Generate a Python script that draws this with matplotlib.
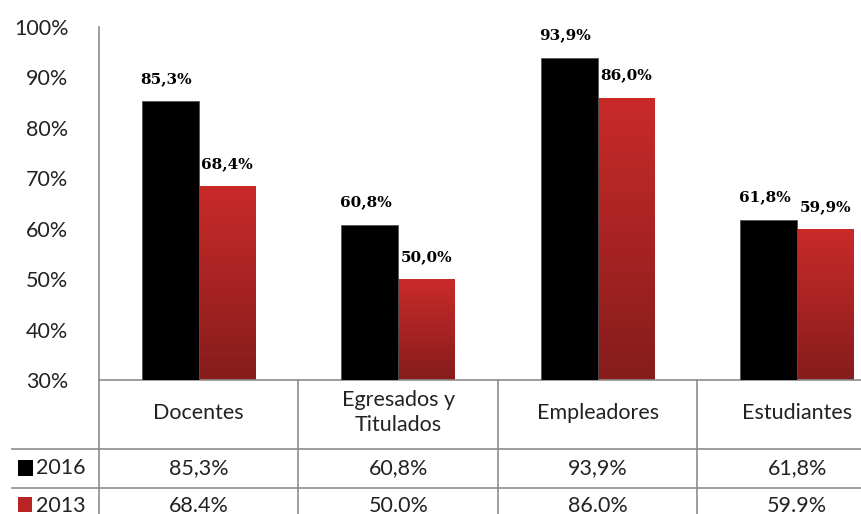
import numpy as np
import matplotlib
matplotlib.use("Agg")
import matplotlib.pyplot as plt
from matplotlib.colors import LinearSegmentedColormap

categories = ["Docentes", "Egresados y\nTitulados", "Empleadores", "Estudiantes"]
years = ["2016", "2013"]
vals_2016 = [85.3, 60.8, 93.9, 61.8]
vals_2013 = [68.4, 50.0, 86.0, 59.9]
labels_2016 = ["85,3%", "60,8%", "93,9%", "61,8%"]
labels_2013 = ["68,4%", "50,0%", "86,0%", "59,9%"]
table_2013 = ["68.4%", "50.0%", "86.0%", "59.9%"]

line_col = "#8c8c8c"
text_col = "#222222"
sans = ["Lato", "DejaVu Sans"]

fig = plt.figure(figsize=(8.62, 5.14), dpi=100)
ax = fig.add_axes([99 / 862, 134 / 514, 798 / 862, 353 / 514])

x = np.arange(len(categories))
w = 0.285
ymin = 30

# black bars for 2016
ax.bar(x - w / 2, np.array(vals_2016) - ymin, w, bottom=ymin, color="black",
       edgecolor="#555555", linewidth=0.6, zorder=3)

# red bars for 2013, with a vertical gradient
red_cmap = LinearSegmentedColormap.from_list("red_grad", ["#861c1c", "#c92b29"])
grad = np.linspace(0, 1, 256).reshape(-1, 1)
bars = ax.bar(x + w / 2, np.array(vals_2013) - ymin, w, bottom=ymin,
              facecolor="none", edgecolor="none", zorder=3)
for b, v in zip(bars, vals_2013):
    im = ax.imshow(grad, cmap=red_cmap, aspect="auto", origin="lower",
                   extent=[b.get_x(), b.get_x() + w, ymin, v], zorder=2)
    im.set_clip_path(b)

# value labels above bars
for xi, v, lab in zip(x - w / 2, vals_2016, labels_2016):
    ax.annotate(lab, (xi, v), xytext=(-3, 16), textcoords="offset points",
                ha="center", va="center", fontsize=11, fontweight="bold",
                family="DejaVu Serif", color="black")
for xi, v, lab in zip(x + w / 2, vals_2013, labels_2013):
    ax.annotate(lab, (xi, v), xytext=(0, 16), textcoords="offset points",
                ha="center", va="center", fontsize=11, fontweight="bold",
                family="DejaVu Serif", color="black")

ax.set_xlim(-0.5, len(categories) - 0.5)
ax.set_ylim(30, 100)
ax.set_yticks(np.arange(30, 101, 10))
ax.set_yticklabels([f"{t}%" for t in range(30, 101, 10)], fontsize=15.5,
                   family=sans, color=text_col)
ax.tick_params(axis="y", length=0, pad=22)
ax.set_xticks([])
for s in ax.spines.values():
    s.set_visible(False)

# data table under the plot, in axes coordinates
tr = ax.transAxes
lkw = dict(color=line_col, linewidth=1.2, transform=tr, clip_on=False)
ax.plot([0, 0], [1, -0.5], **lkw)
ax.plot([0, 1.1], [0, 0], **lkw)
row_y = [-0.195, -0.306]
for ry in row_y:
    ax.plot([-0.109, 1.1], [ry, ry], **lkw)
for i in range(1, len(categories) + 1):
    ax.plot([i / 4, i / 4], [0, -0.5], **lkw)

for i, cat in enumerate(categories):
    cx = (i + 0.5) / 4
    ax.text(cx, -0.093, cat, transform=tr, ha="center", va="center",
            fontsize=15.5, family=sans, color=text_col, linespacing=1.3)
    ax.text(cx, -0.249, f"{vals_2016[i]:.1f}%".replace(".", ","), transform=tr,
            ha="center", va="center", fontsize=15.5, family=sans, color=text_col)
    ax.text(cx, -0.356, table_2013[i], transform=tr, ha="center", va="center",
            fontsize=15.5, family=sans, color=text_col)

# legend keys in the row headers
ax.add_patch(plt.Rectangle((-0.1015, -0.272), 0.019, 0.045, transform=tr,
                           facecolor="black", clip_on=False))
ax.add_patch(plt.Rectangle((-0.1015, -0.374), 0.018, 0.042, transform=tr,
                           facecolor="#b82424", clip_on=False))
ax.text(-0.079, -0.249, years[0], transform=tr, ha="left", va="center",
        fontsize=15.5, family=sans, color=text_col)
ax.text(-0.079, -0.356, years[1], transform=tr, ha="left", va="center",
        fontsize=15.5, family=sans, color=text_col)

fig.savefig("out.png", dpi=100)
